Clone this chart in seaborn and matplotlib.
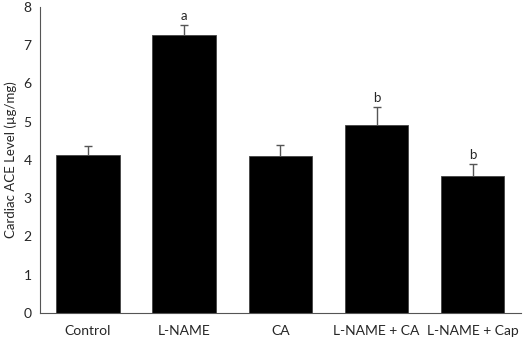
import numpy as np
import pandas as pd
import seaborn as sns
import matplotlib.pyplot as plt

# values
groups = ['Control', 'L-NAME', 'CA', 'L-NAME + CA', 'L-NAME + Cap']
means = [4.12, 7.27, 4.10, 4.90, 3.58]
errors = [0.24, 0.25, 0.28, 0.48, 0.31]
letters = ['', 'a', '', 'b', 'b']

df = pd.DataFrame({'group': groups, 'mean': means})

sns.set_style('white')
plt.rcParams['font.family'] = ['Lato', 'DejaVu Sans']

fig, ax = plt.subplots(figsize=(5.26, 3.39), dpi=100)
sns.barplot(data=df, x='group', y='mean', color='black', width=0.66,
            saturation=1, errorbar=None, edgecolor='#444444', linewidth=0.6, ax=ax)

# upper-only error bars, Excel style (no cap at the bar top)
centers = [p.get_x() + p.get_width() / 2 for p in ax.patches]
tops = np.array(means) + np.array(errors)
ax.vlines(centers, means, tops, color='#555555', linewidth=1)
ax.plot(centers, tops, linestyle='none', marker='_', markersize=6,
        markeredgewidth=1, color='#555555')

for x, top, t in zip(centers, tops, letters):
    if t:
        ax.text(x, top + 0.07, t, ha='center', va='bottom', fontsize=9.5)

ax.set_ylim(0, 8)
ax.set_yticks(range(0, 9))
ax.set_xlim(-0.5, 4.5)
ax.set_xlabel('')
ax.set_ylabel('Cardiac ACE Level (µg/mg)', fontsize=9.5)
ax.yaxis.set_label_coords(-0.047, 0.5)
ax.tick_params(axis='y', length=0, labelsize=10, pad=6)
ax.tick_params(axis='x', length=0, labelsize=10, pad=9)
sns.despine(ax=ax)
for s in ['left', 'bottom']:
    ax.spines[s].set_color('#555555')
    ax.spines[s].set_linewidth(0.8)

fig.subplots_adjust(left=0.076, right=0.99, top=0.98, bottom=0.077)
fig.savefig('out.png', dpi=100)
